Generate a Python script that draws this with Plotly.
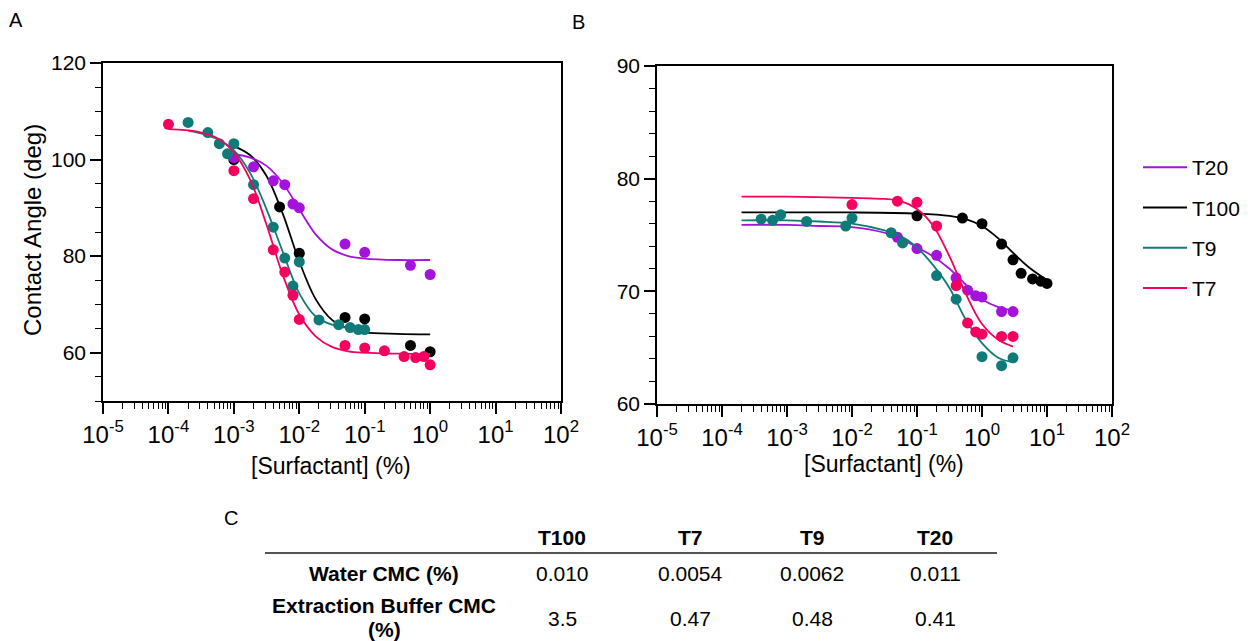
import plotly.graph_objects as go

# page body has an 8px margin: the figure starts 8px in and runs to the window edge
OFF = 8
W, H = 1252 - OFF, 641 - OFF

# ---------------- Panel A (water) : measured points ----------------
a_t7_x = [0.0001, 0.001, 0.002, 0.004, 0.006, 0.008, 0.01, 0.05, 0.1, 0.2, 0.4, 0.6, 0.8, 1.0]
a_t7_y = [107.3, 97.7, 91.9, 81.3, 76.7, 71.9, 66.9, 61.5, 61.0, 60.4, 59.2, 59.0, 59.2, 57.5]
a_t9_x = [0.0002, 0.0004, 0.0006, 0.0008, 0.001, 0.002, 0.004, 0.006, 0.008, 0.01, 0.02, 0.04, 0.06, 0.08, 0.1]
a_t9_y = [107.7, 105.6, 103.3, 101.2, 103.3, 94.8, 86.0, 79.6, 73.8, 78.8, 66.8, 65.8, 65.2, 64.8, 64.8]
a_t20_x = [0.001, 0.002, 0.004, 0.006, 0.008, 0.01, 0.05, 0.1, 0.5, 1.0]
a_t20_y = [100.4, 98.5, 95.6, 94.8, 90.8, 90.0, 82.5, 80.8, 78.1, 76.2]
a_t100_x = [0.001, 0.005, 0.01, 0.05, 0.1, 0.5, 1.0]
a_t100_y = [100.0, 90.2, 80.6, 67.3, 67.0, 61.5, 60.2]

# Panel A fitted curves
a_t7_cx = [0.0001, 0.000178, 0.000316, 0.000562, 0.001, 0.00178, 0.00316, 0.00562, 0.01, 0.0178, 0.0316, 0.0562, 0.1, 0.316, 1.0]
a_t7_cy = [106.3, 106.1, 105.6, 104.4, 101.5, 95.8, 86.5, 76.0, 67.9, 63.4, 61.2, 60.3, 60.0, 59.8, 59.7]
a_t9_cx = [0.0002, 0.000316, 0.000562, 0.001, 0.00178, 0.00316, 0.00562, 0.01, 0.0178, 0.0316, 0.0562, 0.1]
a_t9_cy = [106.0, 105.4, 104.2, 101.9, 97.2, 89.7, 80.8, 72.3, 67.5, 65.8, 65.1, 64.7]
a_t100_cx = [0.001, 0.00178, 0.00316, 0.00562, 0.01, 0.0178, 0.0316, 0.0562, 0.1, 0.316, 1.0]
a_t100_cy = [102.8, 100.9, 96.6, 88.7, 78.9, 71.1, 66.8, 65.0, 64.2, 63.9, 63.8]
a_t20_cx = [0.001, 0.00178, 0.00316, 0.00562, 0.01, 0.0178, 0.0316, 0.0562, 0.1, 0.316, 1.0]
a_t20_cy = [101.1, 100.4, 98.7, 95.1, 89.7, 84.5, 81.4, 80.0, 79.5, 79.2, 79.2]

# ---------------- Panel B (extraction buffer) : measured points ----------------
b_t7_x = [0.01, 0.05, 0.1, 0.2, 0.4, 0.6, 0.8, 1.0, 2.0, 3.0]
b_t7_y = [77.7, 78.0, 77.9, 75.8, 70.5, 67.2, 66.4, 66.2, 66.0, 66.0]
b_t100_x = [0.1, 0.5, 1.0, 2.0, 3.0, 4.0, 6.0, 8.0, 10.0]
b_t100_y = [76.7, 76.5, 76.0, 74.2, 72.8, 71.6, 71.1, 70.9, 70.7]
b_t9_x = [0.0004, 0.0006, 0.0008, 0.002, 0.008, 0.01, 0.04, 0.06, 0.2, 0.4, 1.0, 2.0, 3.0]
b_t9_y = [76.4, 76.3, 76.8, 76.2, 75.8, 76.5, 75.2, 74.3, 71.4, 69.3, 64.2, 63.4, 64.1]
b_t20_x = [0.05, 0.1, 0.2, 0.4, 0.6, 0.8, 1.0, 2.0, 3.0]
b_t20_y = [74.8, 73.8, 73.2, 71.2, 70.1, 69.6, 69.5, 68.2, 68.2]

# Panel B fitted curves
b_t100_cx = [0.0002, 0.001, 0.01, 0.1, 0.316, 0.562, 1.0, 1.78, 3.16, 5.62, 10.0]
b_t100_cy = [77.0, 77.0, 77.0, 76.9, 76.7, 76.4, 75.8, 74.7, 73.3, 72.0, 71.0]
b_t7_cx = [0.0002, 0.001, 0.01, 0.0316, 0.0562, 0.1, 0.178, 0.316, 0.562, 1.0, 1.78, 3.0]
b_t7_cy = [78.4, 78.4, 78.3, 78.2, 78.0, 77.3, 75.8, 73.1, 69.8, 67.1, 65.7, 65.1]
b_t9_cx = [0.0002, 0.001, 0.00316, 0.01, 0.0316, 0.0562, 0.1, 0.178, 0.316, 0.562, 1.0, 1.78, 3.0]
b_t9_cy = [76.3, 76.3, 76.2, 76.0, 75.4, 74.9, 73.9, 72.3, 70.3, 67.5, 65.4, 64.1, 63.7]
b_t20_cx = [0.0002, 0.001, 0.00316, 0.01, 0.0316, 0.0562, 0.1, 0.178, 0.316, 0.562, 1.0, 1.78, 3.0]
b_t20_cy = [75.9, 75.9, 75.8, 75.7, 75.2, 74.7, 73.9, 73.1, 72.0, 70.6, 69.3, 68.6, 68.3]

# ---------------- Table C ----------------
table_cols = ["T100", "T7", "T9", "T20"]
water_cmc = ["0.010", "0.0054", "0.0062", "0.011"]
buffer_cmc = ["3.5", "0.47", "0.48", "0.41"]

# axis tick labels
decade_vals = [1e-5, 1e-4, 1e-3, 1e-2, 1e-1, 1e0, 1e1, 1e2]
decade_text = ["10<sup>-5</sup>", "10<sup>-4</sup>", "10<sup>-3</sup>", "10<sup>-2</sup>",
               "10<sup>-1</sup>", "10<sup>0</sup>", "10<sup>1</sup>", "10<sup>2</sup>"]

COL = {"T20": "#A412DB", "T100": "#000000", "T9": "#0F7B78", "T7": "#F5005E"}
FONT = "Liberation Sans, Arial, sans-serif"

fig = go.Figure()

def add(name, px, py, cx, cy, xa, ya):
    c = COL[name]
    fig.add_trace(go.Scatter(x=cx, y=cy, mode="lines", line=dict(color=c, width=1.8, shape="spline"),
                             xaxis=xa, yaxis=ya, showlegend=False, hoverinfo="skip"))
    fig.add_trace(go.Scatter(x=px, y=py, mode="markers", marker=dict(color=c, size=11),
                             xaxis=xa, yaxis=ya, showlegend=False, name=name))

add("T100", a_t100_x, a_t100_y, a_t100_cx, a_t100_cy, "x", "y")
add("T20", a_t20_x, a_t20_y, a_t20_cx, a_t20_cy, "x", "y")
add("T9", a_t9_x, a_t9_y, a_t9_cx, a_t9_cy, "x", "y")
add("T7", a_t7_x, a_t7_y, a_t7_cx, a_t7_cy, "x", "y")

add("T100", b_t100_x, b_t100_y, b_t100_cx, b_t100_cy, "x2", "y2")
add("T20", b_t20_x, b_t20_y, b_t20_cx, b_t20_cy, "x2", "y2")
add("T9", b_t9_x, b_t9_y, b_t9_cx, b_t9_cy, "x2", "y2")
add("T7", b_t7_x, b_t7_y, b_t7_cx, b_t7_cy, "x2", "y2")

# legend-only entries (lines only, as in the reference)
for name in ["T20", "T100", "T9", "T7"]:
    fig.add_trace(go.Scatter(x=[None], y=[None], mode="lines", name=name,
                             line=dict(color=COL[name], width=2), legendgroup=name,
                             xaxis="x2", yaxis="y2", showlegend=True))

# reference-pixel -> paper fraction
def px2x(p):
    return (p - OFF) / W

def px2y(p):
    return 1 - (p - OFF) / H

xcommon = dict(type="log", range=[-5, 2], tickmode="array", tickvals=decade_vals, ticktext=decade_text,
               ticks="outside", ticklen=11, tickwidth=1.5, tickcolor="black", automargin=False,
               showline=True, linecolor="black", linewidth=1.5, mirror=True,
               showgrid=False, zeroline=False, tickfont=dict(size=24, color="black", family=FONT),
               minor=dict(ticks="outside", ticklen=6, tickwidth=1.2, tickcolor="black", dtick="D1", showgrid=False))

ycommon = dict(ticks="outside", ticklen=11, tickwidth=1.5, tickcolor="black", automargin=False,
               showline=True, linecolor="black", linewidth=1.5, mirror=True,
               showgrid=False, zeroline=False, tickfont=dict(size=21, color="black", family=FONT))

fig.update_layout(
    width=W, height=H,
    margin=dict(l=0, r=0, t=0, b=0, pad=0, autoexpand=False),
    paper_bgcolor="white", plot_bgcolor="white",
    font=dict(family=FONT, color="black", size=20),
    xaxis=dict(domain=[px2x(103), px2x(561)], anchor="y", **xcommon),
    xaxis2=dict(domain=[px2x(657), px2x(1112)], anchor="y2", **xcommon),
    yaxis=dict(domain=[px2y(401), px2y(63)], anchor="x", range=[50, 120], tick0=0, dtick=20,
               minor=dict(ticks="outside", ticklen=6, tickwidth=1.2, tickcolor="black", dtick=5, showgrid=False),
               **ycommon),
    yaxis2=dict(domain=[px2y(404), px2y(66)], anchor="x2", range=[60, 90], tick0=0, dtick=10,
                minor=dict(ticks="outside", ticklen=6, tickwidth=1.2, tickcolor="black", dtick=2, showgrid=False),
                **ycommon),
    legend=dict(x=px2x(1138), y=px2y(147), xanchor="left", yanchor="top", itemwidth=44,
                font=dict(size=21), tracegroupgap=10, bgcolor="rgba(0,0,0,0)"),
    showlegend=True,
)

ann = []
def text(t, x, y, size=20, bold=False, angle=0, xanchor="center"):
    ann.append(dict(text=("<b>%s</b>" % t) if bold else t, x=px2x(x), y=px2y(y), xref="paper", yref="paper",
                    showarrow=False, xanchor=xanchor, yanchor="middle", textangle=angle,
                    font=dict(size=size, family=FONT, color="black")))

text("A", 16, 20, 20)
text("B", 578, 22, 20)
text("C", 231, 518, 20)
text("Contact Angle (deg)", 32, 230, 24, angle=-90)
text("[Surfactant] (%)", 331, 466, 23)
text("[Surfactant] (%)", 884, 464, 23)

# Table C
col_x = [562, 690, 812, 935]
for name, cx in zip(table_cols, col_x):
    text(name, cx, 537, 21, bold=True)
text("Water CMC (%)", 384, 573, 21, bold=True)
text("Extraction Buffer CMC", 384, 605, 21, bold=True)
text("(%)", 384, 629, 21, bold=True)
for v, cx in zip(water_cmc, col_x):
    text(v, cx, 573, 21)
for v, cx in zip(buffer_cmc, col_x):
    text(v, cx, 618, 21)

fig.update_layout(annotations=ann,
                  shapes=[dict(type="line", xref="paper", yref="paper", x0=px2x(265), x1=px2x(997),
                               y0=px2y(553), y1=px2y(553), line=dict(color="#555555", width=2))])

fig.write_html("out.html")
